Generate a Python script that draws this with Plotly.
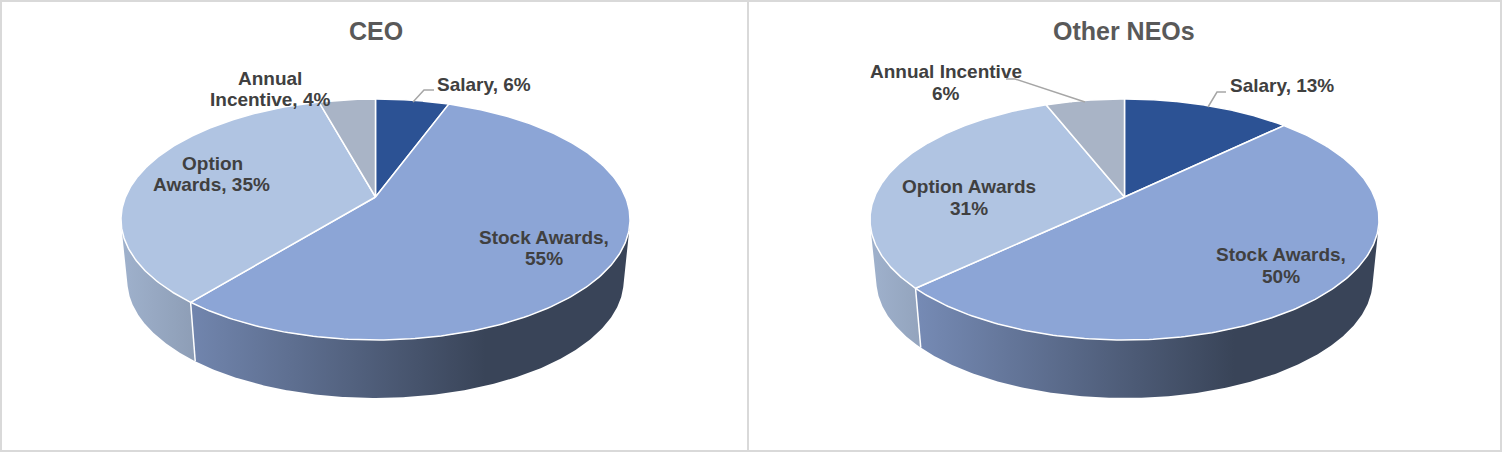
import numpy as np
import plotly.graph_objects as go
from plotly.subplots import make_subplots

# ---- data ----
categories = ["Salary", "Stock Awards", "Option Awards", "Annual Incentive"]
ceo_values = [5.6, 55.3, 34.8, 4.3]
neo_values = [12.8, 50.2, 31.0, 6.0]
chart_titles = ["CEO", "Other NEOs"]
ceo_labels = [["Salary, 6%"], ["Stock Awards,", "55%"], ["Option", "Awards, 35%"], ["Annual", "Incentive, 4%"]]
neo_labels = [["Salary, 13%"], ["Stock Awards,", "50%"], ["Option Awards", "31%"], ["Annual Incentive", "6%"]]

# ---- style / layout ----
W, H = 1502, 452
SPLIT = 748
top_colors = ["#2C5294", "#8CA5D6", "#B0C4E2", "#A9B4C6"]
CENTERS = [375.5, 1124.5]
A, B, CY = 254.5, 120.5, 219.5      # projected top ellipse
P = 2 * 22.5 / (2 * 120.5)          # perspective term
LOWER_DY, LOWER_S = 61.0, 0.975     # lower rim
SHADE_L, SHADE_R, SHADE_START, SHADE_STOP = 0.90, 0.41, -250, 110
label_pos = [
    [[(484, 84)], [(544, 237), (544, 258)], [(212, 163), (211, 184)], [(269.5, 78), (269.5, 99)]],
    [[(1282, 85)], [(1281, 254), (1281, 276)], [(969, 186), (969, 208)], [(946, 71), (946, 93)]],
]
leaders = [
    [[(413, 102), (424, 90), (434, 90)]],
    [[(1208, 107), (1217, 92), (1226, 92)], [(1006, 79), (1015, 79), (1085, 102)]],
]


def project(theta):
    """Clockwise angle from 12 o'clock on the pie disc to offset from ellipse centre."""
    x, y = np.sin(theta), np.cos(theta)
    w = 1 + P * y
    return A * np.sqrt(1 - P * P) * x / w, B * (y + P) / w


def top_pt(theta, cx):
    dx, dy = project(theta)
    return cx + dx, CY - dy


def low_pt(theta, cx):
    dx, dy = project(theta)
    return cx + LOWER_S * dx, CY + LOWER_DY - LOWER_S * dy


def silhouette_angles():
    """Angles where the wall's generator line is tangent to the rim."""
    th = np.linspace(0, 2 * np.pi, 7201)
    tx, ty = top_pt(th, 0.0)
    lx, ly = low_pt(th, 0.0)
    cross = np.gradient(tx) * (ly - ty) - np.gradient(ty) * (lx - tx)
    idx = np.where(np.sign(cross[1:-2]) != np.sign(cross[2:-1]))[0] + 1
    found = th[idx]
    return found[found < np.pi].min(), found[found > np.pi].max()


def shade(hexcol, f):
    r, g, b = (int(hexcol[i:i + 2], 16) for i in (1, 3, 5))
    return f"rgb({r * f:.0f},{g * f:.0f},{b * f:.0f})"


TH_R, TH_L = silhouette_angles()

fig = make_subplots(rows=1, cols=2, horizontal_spacing=0)
fig.update_layout(
    width=W, height=H, margin=dict(l=0, r=0, t=0, b=0),
    paper_bgcolor="white", plot_bgcolor="white", showlegend=False,
    xaxis=dict(domain=[0, SPLIT / W], range=[0, SPLIT], visible=False, fixedrange=True),
    xaxis2=dict(domain=[SPLIT / W, 1], range=[SPLIT, W], visible=False, fixedrange=True),
    yaxis=dict(range=[H, 0], visible=False, fixedrange=True),
    yaxis2=dict(range=[H, 0], visible=False, fixedrange=True),
)

annotations = []
for k, (vals, labs) in enumerate(zip([ceo_values, neo_values], [ceo_labels, neo_labels])):
    cx = CENTERS[k]
    col = k + 1
    fr = np.array(vals, dtype=float) / sum(vals)
    edges = np.concatenate([[0], np.cumsum(fr)]) * 2 * np.pi

    # side wall
    for i, name in enumerate(categories):
        t0, t1 = max(edges[i], TH_R), min(edges[i + 1], TH_L)
        if t1 <= t0:
            continue
        th = np.linspace(t0, t1, 240)
        tx, ty = top_pt(th, cx)
        lx, ly = low_pt(th[::-1], cx)
        fig.add_trace(go.Scatter(
            x=np.concatenate([tx, lx]), y=np.concatenate([ty, ly]),
            mode="lines", line=dict(width=0), fill="toself", hoverinfo="skip",
            fillgradient=dict(
                type="horizontal",
                start=cx + SHADE_START, stop=cx + SHADE_STOP,
                colorscale=[[0, shade(top_colors[i], SHADE_L)], [1, shade(top_colors[i], SHADE_R)]],
            ),
        ), row=1, col=col)

    # wall separators
    for e in edges[1:-1]:
        if TH_R < e < TH_L:
            a = top_pt(e, cx)
            b = low_pt(e, cx)
            fig.add_trace(go.Scatter(
                x=[a[0], b[0]], y=[a[1], b[1]], mode="lines",
                line=dict(color="white", width=1.5), hoverinfo="skip",
            ), row=1, col=col)

    # top slices
    ax, ay = cx, CY - B * P
    for i, name in enumerate(categories):
        th = np.linspace(edges[i], edges[i + 1], 240)
        tx, ty = top_pt(th, cx)
        fig.add_trace(go.Scatter(
            x=np.concatenate([[ax], tx, [ax]]), y=np.concatenate([[ay], ty, [ay]]),
            mode="lines", line=dict(color="white", width=1.5), fill="toself",
            fillcolor=top_colors[i], name=name, hoverinfo="skip",
        ), row=1, col=col)

    # leader lines
    for pts in leaders[k]:
        fig.add_trace(go.Scatter(
            x=[p[0] for p in pts], y=[p[1] for p in pts], mode="lines",
            line=dict(color="#A6A6A6", width=1.5), hoverinfo="skip",
        ), row=1, col=col)

    # labels (one annotation per line to hold the tight line spacing)
    xr, yr = ("x", "y") if k == 0 else ("x2", "y2")
    for lines, poss in zip(labs, label_pos[k]):
        for txt, (px, py) in zip(lines, poss):
            annotations.append(dict(
                x=px, y=py, xref=xr, yref=yr, text=txt, showarrow=False,
                xanchor="center", yanchor="middle",
                font=dict(family="Liberation Sans", size=19, color="#404040", weight="bold"),
            ))
    annotations.append(dict(
        x=cx + (0 if k == 0 else -0.5), y=31, xref=xr, yref=yr, text=chart_titles[k], showarrow=False,
        xanchor="center", yanchor="middle",
        font=dict(family="Liberation Sans", size=25, color="#595959", weight="bold"),
    ))

fig.update_layout(annotations=annotations)
for x0, x1 in [(1, SPLIT), (SPLIT, W - 1)]:
    fig.add_shape(type="rect", xref="paper", yref="paper",
                  x0=x0 / W, x1=x1 / W, y0=1 / H, y1=1 - 1 / H,
                  line=dict(color="#D9D9D9", width=2), layer="above")

fig.write_html("out.html", config=dict(displayModeBar=False),
               post_script="document.body.style.margin='0';document.documentElement.style.overflow='hidden';")
